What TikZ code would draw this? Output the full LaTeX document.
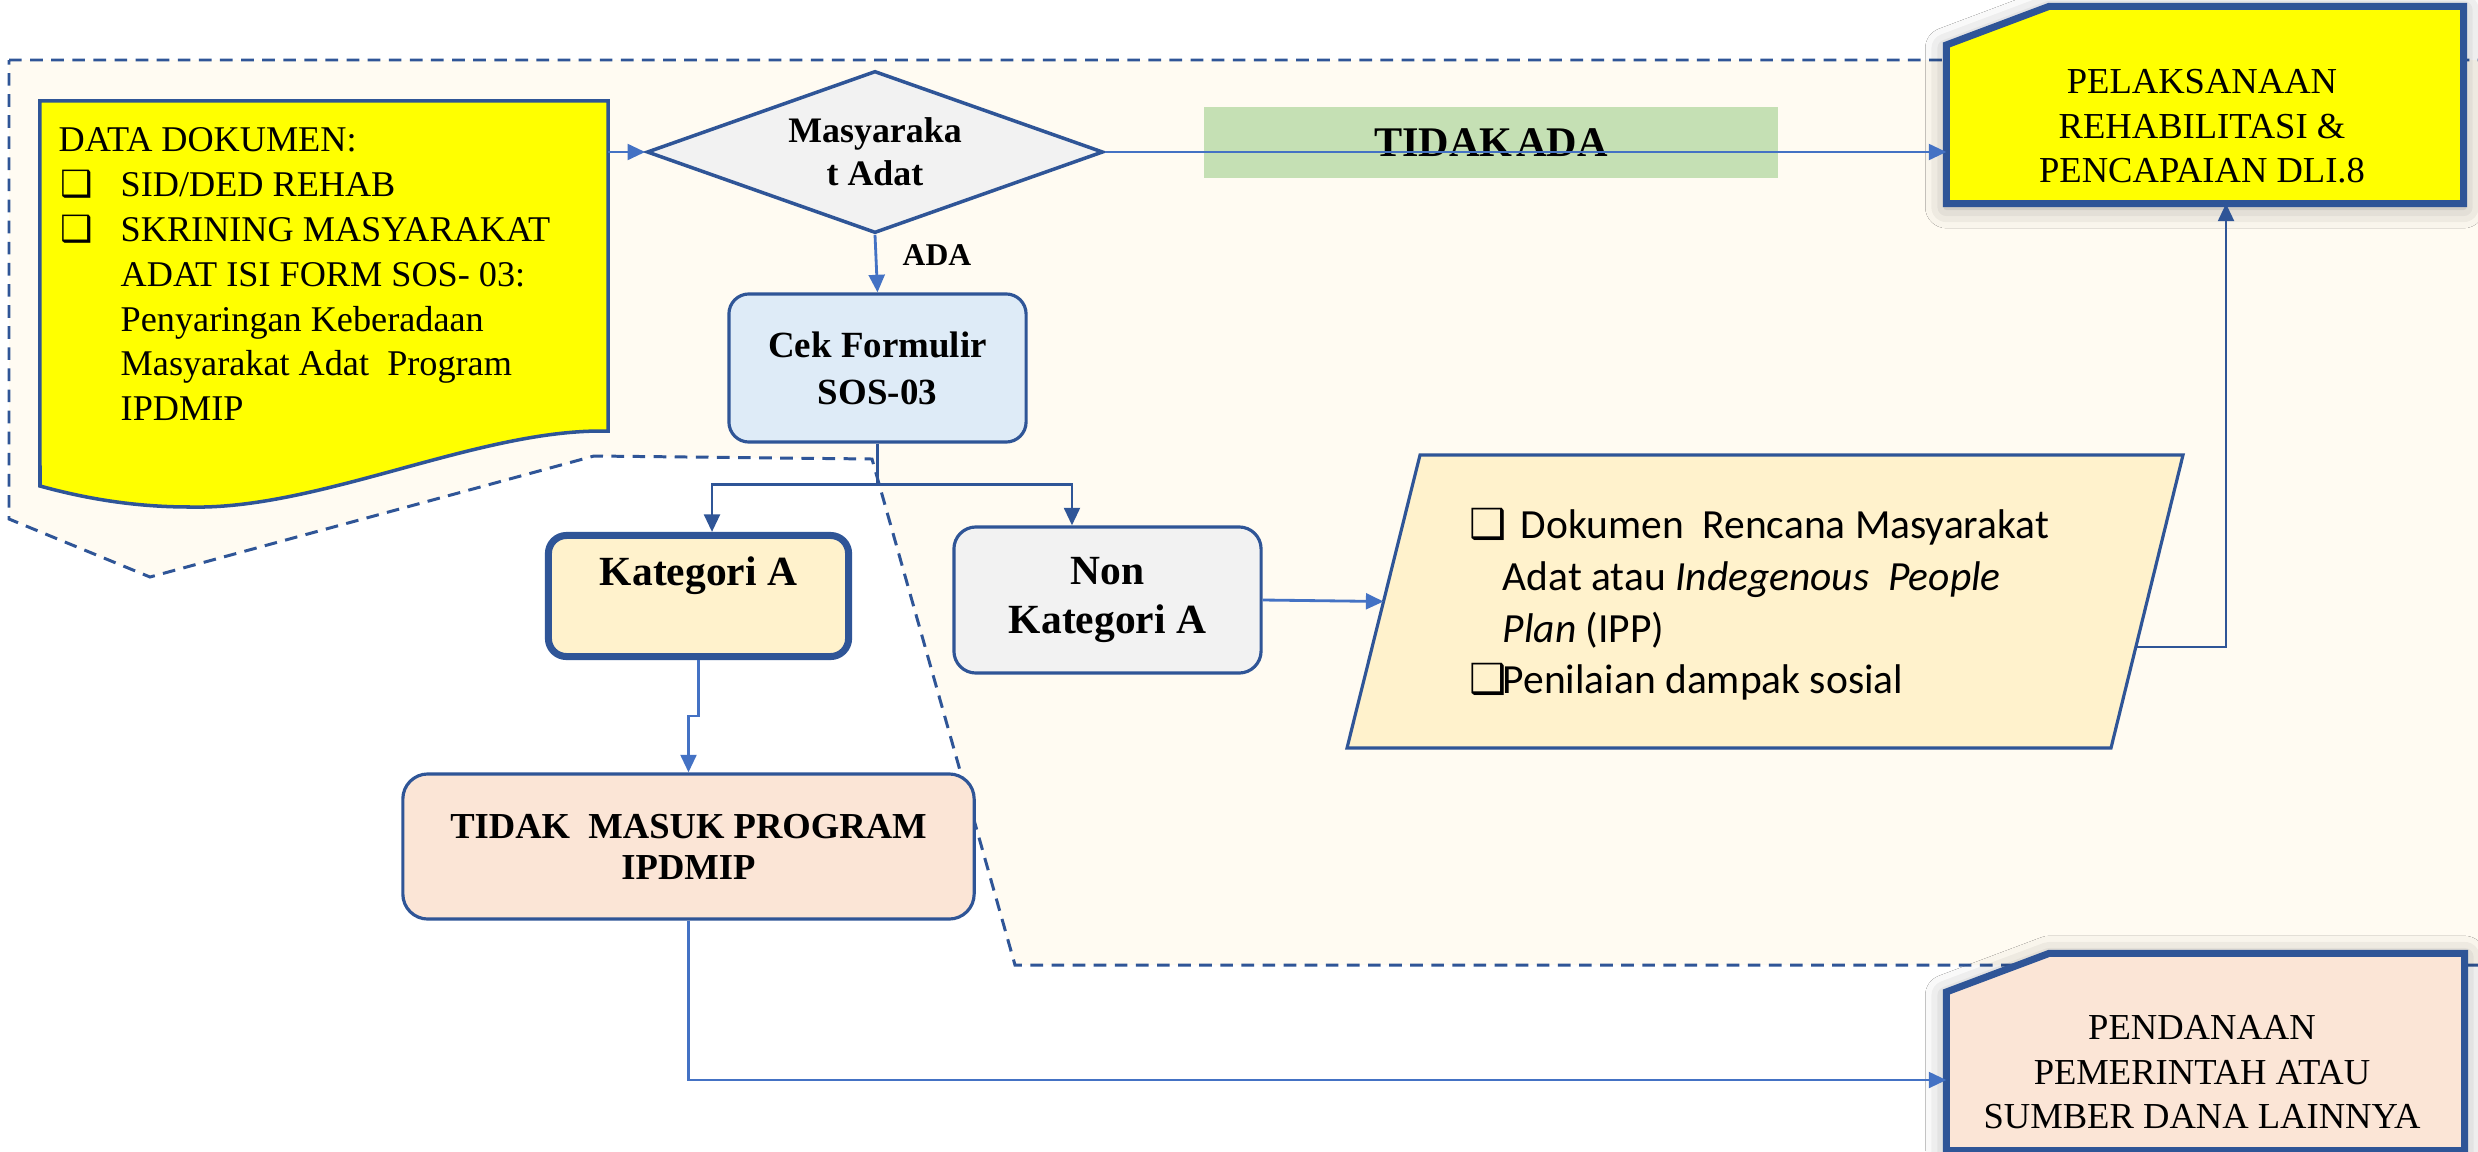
\documentclass[tikz,border=0pt]{standalone}
\usepackage{fontspec}
\setmainfont{Liberation Serif}
\newfontfamily\calfont{Carlito}
\newfontfamily\dvsfont{DejaVu Sans}
\usetikzlibrary{arrows.meta,shapes.geometric,shadows.blur}
\definecolor{bdark}{HTML}{2F5597}
\definecolor{bline}{HTML}{4472C4}
\definecolor{regfill}{HTML}{FFFBF2}
\definecolor{docyel}{HTML}{FFFF00}
\definecolor{diafill}{HTML}{F2F2F2}
\definecolor{grn}{HTML}{C5E0B4}
\definecolor{cekfill}{HTML}{DEEBF7}
\definecolor{katfill}{HTML}{FFF2CC}
\definecolor{nkfill}{HTML}{F2F2F2}
\definecolor{pinkfill}{HTML}{FBE5D6}
\newcommand\fsz[2]{\fontsize{#1pt}{#2pt}\selectfont}
\newcommand\ck{{\dvsfont\symbol{"2751}}}
\newcommand\fl{\rule{0pt}{10pt}}
\begin{document}
\begin{tikzpicture}[x=0.01cm,y=-0.01cm,
  conn/.style={draw=bline,line width=0.8pt,-{Triangle[length=5pt,width=4.5pt]}},
  connd/.style={conn,draw=bdark},
  rbox/.style={draw=bdark,line width=0.9pt,inner sep=0pt,align=center},
  snipframe/.style={draw=bdark,line width=2pt,line join=miter,
    blur shadow={shadow xshift=0pt,shadow yshift=-1pt,shadow blur radius=6pt,shadow opacity=35}},
  holder/.style={inner sep=0pt,outer sep=0pt,draw=none},
  txt/.style={inner sep=0pt},
  regline/.style={draw=bdark,line width=0.85pt,dash pattern=on 3.6pt off 2.4pt}]
\useasboundingbox (0,0) rectangle (2478,1151);
\fill[white] (0,0) rectangle (2478,1151);

% dashed region
\draw[regline,fill=regfill] (9,60) -- (2500,60) -- (2500,965) -- (1015,965) -- (872,459)
  -- (594,456) -- (150,577) -- (9,519) -- cycle;

% document shape
\node[holder,name=doc,minimum width=5.68cm,minimum height=3.30cm] at (324,266) {};
\draw[draw=bdark,line width=1pt,fill=docyel] (doc.north west) -- (doc.north east) -- (doc.south east)
  .. controls (480,428) and (320,510) .. (190,507)
  .. controls (130,507) and (80,497) .. (40,486) -- cycle;
\node[txt,name=doctxt,anchor=north west,align=left,font=\fsz{10.3}{12.75}] at (58,115.85)
  {\fl DATA DOKUMEN:\\
   \hspace*{0.02cm}\makebox[0.60cm][l]{\ck}SID/DED REHAB\\
   \hspace*{0.02cm}\makebox[0.60cm][l]{\ck}SKRINING MASYARAKAT\\
   \hspace*{0.62cm}ADAT ISI FORM SOS- 03:\\
   \hspace*{0.62cm}Penyaringan Keberadaan\\
   \hspace*{0.62cm}Masyarakat Adat~ Program\\
   \hspace*{0.62cm}IPDMIP};

% decision
\node[shape=diamond,aspect=2.8,draw=bdark,line width=1pt,fill=diafill,inner sep=0pt,
  minimum width=4.56cm,minimum height=1.62cm,align=center,font=\bfseries\fsz{10.2}{12.2},
  name=dia] at (875,152) {Masyaraka\\t Adat};

% green label
\node[holder,name=tidakada,fill=grn,minimum width=5.74cm,minimum height=0.71cm,
  font=\bfseries\fsz{12}{14}] at (1491,142.5) {TIDAK\kern1pt ADA};

% process boxes
\node[rbox,name=cek,fill=cekfill,minimum width=2.97cm,minimum height=1.48cm,rounded corners=0.2cm,
  font=\bfseries\fsz{10.5}{13.4}] at (877.5,368) {Cek Formulir\\SOS-03};
\node[rbox,name=kat,fill=katfill,line width=2pt,minimum width=3.00cm,minimum height=1.21cm,
  rounded corners=0.18cm,font=\bfseries\fsz{11.8}{14.2}] at (698.5,596) {Kategori A\\\mbox{}};
\node[rbox,name=nonkat,fill=nkfill,minimum width=3.07cm,minimum height=1.46cm,rounded corners=0.22cm,
  font=\bfseries\fsz{11.8}{14.2}] at (1107.5,600) {Non\\Kategori A};
\node[rbox,name=tidak,fill=pinkfill,minimum width=5.71cm,minimum height=1.45cm,rounded corners=0.25cm,
  font=\bfseries\fsz{10.4}{11.7}] at (688.5,846.5) {TIDAK\ \ MASUK PROGRAM\\IPDMIP};

% parallelogram
\draw[draw=bdark,line width=0.9pt,fill=katfill] (1420,455) -- (2183,455) -- (2111,748) -- (1347,748) -- cycle;
\coordinate (paraW) at (1383.5,601.5);
\coordinate (paraE) at (2136,647);
\node[txt,name=para,anchor=north west,align=left,font=\calfont\fsz{11.8}{14.7}] at (1469,502.85)
  {\fl\makebox[0.51cm][l]{\ck}Dokumen~ Rencana Masyarakat\\
   \hspace*{0.33cm}Adat atau \textit{Indegenous~ People}\\
   \hspace*{0.33cm}\textit{Plan} (IPP)\\
   \makebox[0.33cm][l]{\ck}Penilaian dampak sosial};

% outcome boxes
\node[holder,name=pel,minimum width=5.17cm,minimum height=1.97cm] at (2205,105) {};
\draw[snipbox/.style={},snipframe,fill=docyel] (pel.south west) -- ([yshift=-0.385cm]pel.north west)
  -- ([xshift=1.025cm]pel.north west) -- (pel.north east) -- (pel.south east) -- cycle;
\node[txt,name=peltxt,anchor=north,align=center,font=\fsz{10.4}{12.65}] at (2202,57.85)
  {\fl PELAKSANAAN\\REHABILITASI \&\\PENCAPAIAN DLI.8};

\node[holder,name=pend,minimum width=5.18cm,minimum height=1.97cm] at (2205.5,1052) {};
\draw[snipframe,fill=pinkfill] (pend.south west) -- ([yshift=-0.385cm]pend.north west)
  -- ([xshift=1.025cm]pend.north west) -- (pend.north east) -- (pend.south east) -- cycle;
\node[txt,name=pendtxt,anchor=north,align=center,font=\fsz{10.4}{12.65}] at (2202,1003.85)
  {\fl PENDANAAN\\PEMERINTAH ATAU\\SUMBER DANA LAINNYA};

% connectors
\draw[conn] (dia.west -| doc.east) -- (dia.west);
\draw[conn] (dia.east) -- (dia.east -| pel.west);
\draw[conn] (dia.south) -- (cek.north);
\node[txt,name=adalbl,anchor=base west,font=\bfseries\fsz{9}{11}] at (902,265) {ADA};
\draw[connd] (cek.south) -- ++(0,41) -| ([xshift=0.135cm]kat.north);
\draw[connd] (cek.south) -- ++(0,41) -| ([xshift=-0.355cm]nonkat.north);
\draw[conn] (kat.south) -- ++(0,56) -| (tidak.north);
\draw[conn] (nonkat.east) -- (paraW);
\draw[connd] (paraE) -| ([xshift=0.21cm]pel.south);
\draw[conn] (tidak.south) |- ([yshift=-0.28cm]pend.west);
\end{tikzpicture}
\end{document}
